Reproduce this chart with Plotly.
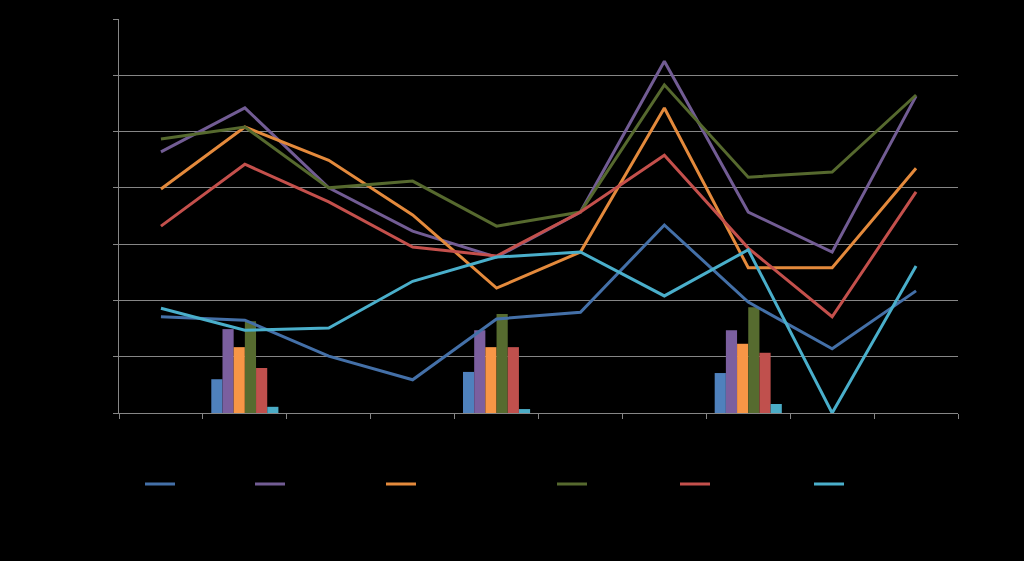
import plotly.graph_objects as go

categories = ["Cat 1", "Cat 2", "Cat 3", "Cat 4", "Cat 5", "Cat 6", "Cat 7", "Cat 8", "Cat 9", "Cat 10"]
series_names = ["Series 1", "Series 2", "Series 3", "Series 4", "Series 5", "Series 6"]

line_blue = [1.71, 1.65, 1.01, 0.59, 1.67, 1.79, 3.34, 1.97, 1.14, 2.17]
line_purple = [4.64, 5.42, 4.00, 3.23, 2.77, 3.57, 6.25, 3.57, 2.86, 5.63]
line_orange = [3.98, 5.08, 4.49, 3.52, 2.22, 2.86, 5.42, 2.58, 2.58, 4.35]
line_green = [4.87, 5.08, 4.00, 4.12, 3.32, 3.57, 5.83, 4.19, 4.28, 5.65]
line_red = [3.32, 4.42, 3.75, 2.95, 2.79, 3.57, 4.58, 2.93, 1.71, 3.93]
line_cyan = [1.86, 1.47, 1.51, 2.34, 2.77, 2.86, 2.08, 2.90, 0.00, 2.61]

bar_categories = ["Cat 2", "Cat 5", "Cat 8"]
bar_blue = [0.60, 0.73, 0.71]
bar_purple = [1.49, 1.47, 1.47]
bar_orange = [1.17, 1.17, 1.23]
bar_green = [1.63, 1.76, 1.88]
bar_red = [0.80, 1.17, 1.07]
bar_cyan = [0.11, 0.07, 0.16]

line_colors = ["#4470A8", "#725C94", "#E48A3C", "#56692E", "#C4504C", "#4AAFCB"]
bar_colors = ["#4F81BD", "#7B5F9F", "#F79646", "#566B2F", "#C0504D", "#4BACC6"]

lines = [line_blue, line_purple, line_orange, line_green, line_red, line_cyan]
bars = [bar_blue, bar_purple, bar_orange, bar_green, bar_red, bar_cyan]

legend_x_px = [140, 250, 381, 552, 675, 809]

fig = go.Figure()
for i, b in enumerate(bars):
    fig.add_trace(go.Bar(x=bar_categories, y=b, marker=dict(color=bar_colors[i], line=dict(width=0)),
                         showlegend=False, name=series_names[i]))
for i, l in enumerate(lines):
    leg = "legend" if i == 0 else f"legend{i+1}"
    fig.add_trace(go.Scatter(x=categories, y=l, mode="lines", name=series_names[i],
                             line=dict(color=line_colors[i], width=3), legend=leg))

layout_legends = {}
for i, px in enumerate(legend_x_px):
    key = "legend" if i == 0 else f"legend{i+1}"
    layout_legends[key] = dict(x=px / 1024, y=1 - 484 / 561, xref="container", yref="container",
                               xanchor="left", yanchor="middle", bgcolor="rgba(0,0,0,0)",
                               font=dict(color="black", size=12, family="Liberation Sans"),
                               orientation="h")

fig.update_layout(
    width=1024, height=561,
    paper_bgcolor="black", plot_bgcolor="black",
    margin=dict(l=119, r=66, t=19, b=148),
    barmode="group", bargap=0.2, bargroupgap=0,
    font=dict(color="black", family="Liberation Sans", size=12),
    xaxis=dict(categoryorder="array", categoryarray=categories, type="category",
               showline=True, linecolor="#868686", linewidth=1, ticks="outside", tickson="boundaries",
               ticklen=5, tickcolor="#868686", showgrid=False, tickfont=dict(color="black"),
               range=[-0.5, 9.5], zeroline=False),
    yaxis=dict(range=[0, 7], dtick=1, showline=True, linecolor="#868686", linewidth=1,
               ticks="outside", ticklen=5, tickcolor="#868686", gridcolor="#868686", gridwidth=1,
               tickfont=dict(color="black"), zeroline=False),
    **layout_legends,
)

fig.write_html("out.html")
